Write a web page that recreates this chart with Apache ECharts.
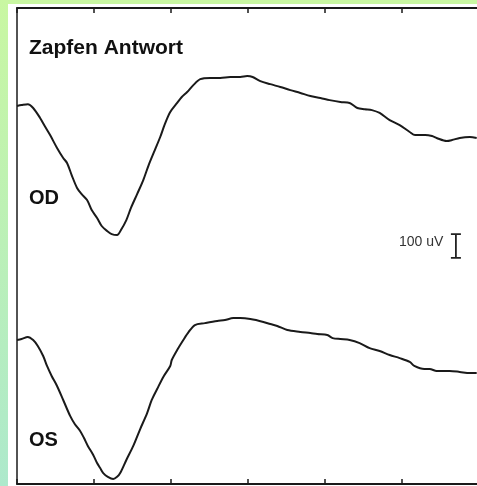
<!DOCTYPE html>
<html><head><meta charset="utf-8">
<script src="https://cdn.jsdelivr.net/npm/echarts@6/dist/echarts.min.js"></script>
<style>html,body{margin:0;padding:0;background:#fff}#c{width:477px;height:486px}</style>
</head><body><div id="c"></div>
<script>
// time in ms, amplitude in µV (relative to trace start)
const odTime=[0,0.6,1.4,2.1,3.0,3.6,4.3,5.2,6.0,6.5,7.1,7.8,8.4,9.1,9.7,10.4,11.0,11.7,12.3,13.0,13.5,14.2,14.8,15.6,16.4,17.1,17.9,18.6,19.2,19.9,20.8,21.4,22.1,22.9,23.8,25.1,26.4,27.7,29.0,29.9,30.6,31.6,32.9,34.2,35.5,36.8,38.1,39.4,40.6,42.0,43.2,44.2,45.2,46.1,47.1,48.4,49.7,51.0,51.7,53.0,53.9,54.5,55.8,56.5,57.5,58.8,59.7];
const odAmp=[0,4,8,-8,-50,-84,-122,-176,-218,-239,-290,-344,-370,-395,-437,-470,-504,-525,-538,-542,-521,-479,-428,-370,-311,-248,-185,-130,-76,-25,13,38,59,88,113,118,118,122,122,126,122,105,92,80,67,55,42,34,25,17,13,-8,-13,-17,-29,-59,-80,-109,-122,-122,-126,-134,-147,-143,-134,-130,-134];
const osTime=[0,0.6,1.4,2.1,2.7,3.4,3.9,4.5,5.2,6.0,6.9,7.5,8.2,8.7,9.2,9.9,10.4,10.8,11.2,11.8,12.5,13.0,13.4,14.2,15.1,16.0,16.9,17.5,18.2,19.0,19.9,20.1,20.8,21.6,22.3,23.1,24.4,26.0,27.0,28.1,29.0,30.3,32.0,32.9,33.8,35.1,36.8,38.1,39.0,40.3,41.0,42.0,43.2,44.5,45.8,47.1,48.4,49.7,51.0,51.6,52.9,53.6,54.5,55.5,56.2,57.5,58.8,59.7];
const osAmp=[0,4,13,0,-25,-67,-109,-151,-193,-252,-319,-353,-382,-412,-445,-483,-517,-538,-559,-575,-584,-575,-559,-504,-445,-374,-307,-252,-206,-155,-109,-84,-42,0,34,63,71,80,84,92,92,88,76,67,59,42,34,29,25,21,8,4,0,-13,-34,-46,-63,-76,-92,-109,-122,-122,-130,-130,-130,-134,-139,-139];
const xTicks=[0,10,20,30,40,50,60];
const odOffset=1588, osOffset=605;
const scaleBar={t:57,from:950,size:100,label:'100 uV'};
const labels={title:'Zapfen Antwort',od:'OD',os:'OS'};

const od=odTime.map((t,i)=>[t,odAmp[i]+odOffset]);
const os=osTime.map((t,i)=>[t,osAmp[i]+osOffset]);
const w=0.65;
const bar=[[scaleBar.t-w,scaleBar.from+scaleBar.size],[scaleBar.t+w,scaleBar.from+scaleBar.size],'-',
 [scaleBar.t,scaleBar.from+scaleBar.size],[scaleBar.t,scaleBar.from],'-',
 [scaleBar.t-w,scaleBar.from],[scaleBar.t+w,scaleBar.from]];

const chart=echarts.init(document.getElementById('c'),null,{renderer:'canvas'});
const xAx=(pos)=>({type:'value',position:pos,min:xTicks[0],max:xTicks[xTicks.length-1],interval:10,
  axisLine:{show:true,onZero:false,lineStyle:{color:'#1a1a1a',width:2}},
  axisTick:{show:true,inside:true,length:5,lineStyle:{color:'#1a1a1a',width:1.5}},
  axisLabel:{show:false},splitLine:{show:false}});
chart.setOption({
  animation:false,
  backgroundColor:'#ffffff',
  graphic:[
    {type:'rect',z:-10,silent:true,shape:{x:0,y:0,width:477,height:486},
     style:{fill:new echarts.graphic.LinearGradient(0,0,0,1,[{offset:0,color:'#c9f7a2'},{offset:1,color:'#ade9cc'}])}},
    {type:'rect',z:-9,silent:true,shape:{x:8,y:4,width:469,height:482},style:{fill:'#ffffff'}},
    {type:'text',left:29,top:38,style:{text:labels.title,font:'bold 21px "Liberation Sans", Arial, sans-serif',fill:'#111'}},
    {type:'text',left:29,top:188,style:{text:labels.od,font:'bold 20px "Liberation Sans", Arial, sans-serif',fill:'#111'}},
    {type:'text',left:29,top:430,style:{text:labels.os,font:'bold 20px "Liberation Sans", Arial, sans-serif',fill:'#111'}},
    {type:'text',left:399,top:235,style:{text:scaleBar.label,font:'14px "Liberation Sans", Arial, sans-serif',fill:'#333'}}
  ],
  grid:{left:17,top:8,width:462,height:476,outerBoundsMode:'none',containLabel:false},
  xAxis:[xAx('top'),xAx('bottom')],
  yAxis:{type:'value',min:0,max:2000,axisLine:{show:true,onZero:false,lineStyle:{color:'#1a1a1a',width:1.5}},
    axisTick:{show:false},axisLabel:{show:false},splitLine:{show:false}},
  series:[
    {type:'line',data:od,showSymbol:false,smooth:0.3,lineStyle:{color:'#1a1a1a',width:2}},
    {type:'line',data:os,showSymbol:false,smooth:0.3,lineStyle:{color:'#1a1a1a',width:2}},
    {type:'line',data:bar,showSymbol:false,connectNulls:false,lineStyle:{color:'#222',width:1.8}}
  ]
});
</script></body></html>
